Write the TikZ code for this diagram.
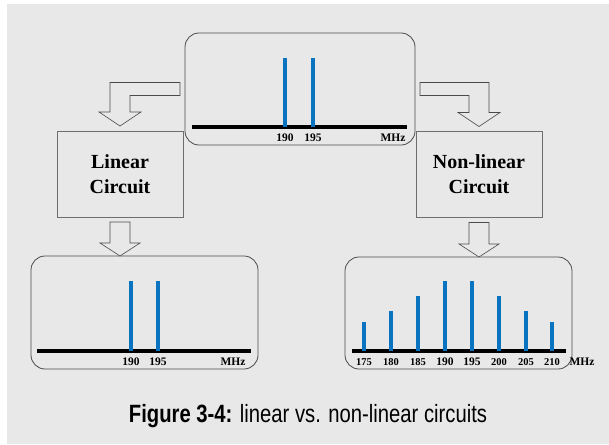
\documentclass[tikz,border=0pt]{standalone}
\usepackage{fontspec}
\setmainfont{Liberation Serif}
\newfontfamily\capfont[FakeStretch=0.81]{Liberation Sans}
\usetikzlibrary{positioning,calc}

\definecolor{bggray}{HTML}{E7E8E7}
\definecolor{specblue}{HTML}{0B74C1}
\definecolor{edgegray}{HTML}{4A4A4A}

% down block arrow from a circuit box to the spectrum below it
\newcommand{\downblock}[2]{%
  \draw[blockarrow] let \p1=(#1.south), \p2=(#2.north) in
    ({\x1-10pt},{\y1-5pt}) -- ({\x1+10pt},{\y1-5pt}) -- ({\x1+10pt},{\y2+13pt})
    -- ({\x1+20pt},{\y2+13pt}) -- (\x1,\y2) -- ({\x1-20pt},{\y2+13pt})
    -- ({\x1-10pt},{\y2+13pt}) -- cycle;}
% bent block arrow: #1 side anchor of source, #2 target box, #3 = -1 left / +1 right
\newcommand{\bentblock}[3]{%
  \draw[blockarrow] let \p1=(#1), \p2=(#2.north) in
    ({\x1+#3*5pt},{\y1+6.5pt}) -- ({\x2+#3*10pt},{\y1+6.5pt}) -- ({\x2+#3*10pt},{\y2+19pt})
    -- ({\x2+#3*21pt},{\y2+19pt}) -- ({\x2},{\y2+5pt}) -- ({\x2-#3*21pt},{\y2+19pt})
    -- ({\x2-#3*10pt},{\y2+19pt}) -- ({\x2-#3*10pt},{\y1-6.5pt}) -- ({\x1+#3*5pt},{\y1-6.5pt}) -- cycle;}

\begin{document}
\begin{tikzpicture}[x=1pt, y=-1pt,
    panel/.style={draw=edgegray, rounded corners=14pt, line width=0.8pt, inner sep=0pt, outer sep=0pt},
    circuit/.style={draw=edgegray!80, line width=0.7pt, inner sep=0pt, outer sep=0pt, align=center,
                    minimum width=126pt, minimum height=86pt, font=\bfseries\fontsize{20}{25}\selectfont},
    blockarrow/.style={draw=edgegray, line width=0.6pt, fill=bggray},
    axisline/.style={line width=4pt, black},
    bar/.style={line width=4pt, specblue},
    freq/.style={font=\bfseries\fontsize{11.5}{13}\selectfont, anchor=base, inner sep=0pt},
    smallfreq/.style={font=\bfseries\fontsize{10.5}{12}\selectfont, anchor=base, inner sep=0pt}
]
    % background
    \fill[white] (0,0) rectangle (609,444);
    \fill[bggray] (7,4) rectangle (609,444);
    \useasboundingbox (0,0) rectangle (609,444);

    % Input spectrum
    \node[panel, minimum width=230pt, minimum height=112pt] (src) at (300,89) {};
    \draw[axisline] (192,127) -- (407,127);
    \foreach \f/\x in {190/285, 195/313} {
        \draw[bar] (\x,127) -- (\x,58);
        \node[freq] (s\f) at (\x,141) {\f};
    }
    \node[freq] (smhz) at (393,141) {MHz};

    % Circuits
    \node[circuit] (lin) at (120,174) {Linear\\Circuit};
    \node[circuit] (nonlin) at (479,174.5) {Non-linear\\Circuit};

    % Linear output
    \node[panel, minimum width=227pt, minimum height=113pt] (linout) at (144.5,312.5) {};
    \draw[axisline] (37,351) -- (251,351);
    \foreach \f/\x in {190/131, 195/158} {
        \draw[bar] (\x,351) -- (\x,281);
        \node[freq] (l\f) at (\x,365) {\f};
    }
    \node[freq] (lmhz) at (233,365) {MHz};

    % Non-linear output
    \node[panel, minimum width=227pt, minimum height=112pt] (nlout) at (458.5,313) {};
    \draw[axisline] (352,351) -- (566,351);
    \foreach \f/\x/\h in {175/364/322, 180/391/311, 185/418/296, 200/499/296, 205/526/311, 210/552/322} {
        \draw[bar] (\x,351) -- (\x,\h);
        \node[smallfreq] (n\f) at (\x,365) {\f};
    }
    \foreach \f/\x in {190/445, 195/472} {
        \draw[bar] (\x,351) -- (\x,281);
        \node[freq] (n\f) at (\x,365) {\f};
    }
    \node[freq] (nmhz) at (582,365) {MHz};

    % Block arrows
    \bentblock{src.west}{lin}{-1}
    \bentblock{src.east}{nonlin}{1}
    \downblock{lin}{linout}
    \downblock{nonlin}{nlout}

    % Caption
    \node[font=\capfont\fontsize{25}{28}\selectfont, anchor=base] (caption) at (308,422)
        {\textbf{Figure 3-4:} linear vs. non-linear circuits};
\end{tikzpicture}
\end{document}
